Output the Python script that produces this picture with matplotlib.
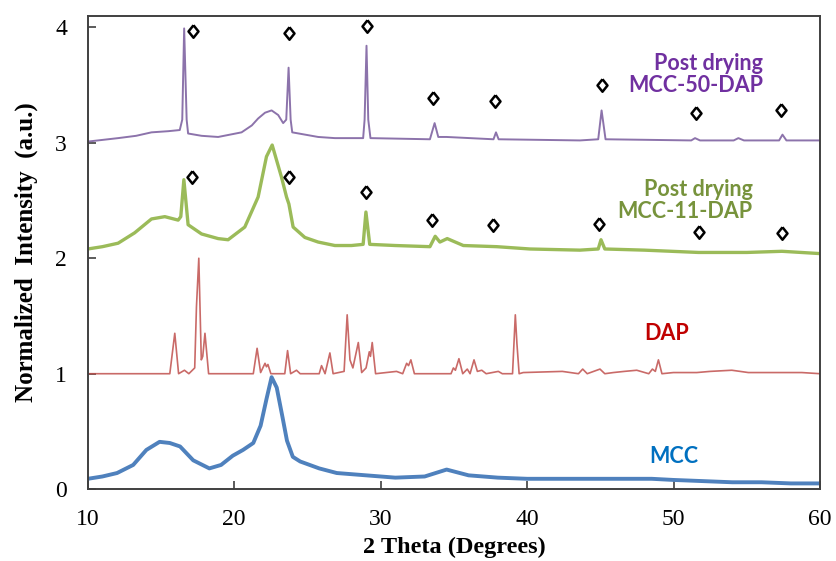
import numpy as np
import matplotlib
matplotlib.use("Agg")
import matplotlib.pyplot as plt

# XRD patterns (2 theta, normalized intensity, stacked)
mcc_x = [10, 11, 12, 13.1, 14.0, 14.9, 15.6, 16.3, 17.2, 18.3,
         19.1, 19.9, 20.6, 21.3, 21.8, 22.2, 22.55, 22.9, 23.3, 23.6,
         24.0, 24.5, 25.8, 27, 29, 31, 33, 34.5, 36, 38,
         40, 43, 45, 47, 48.5, 50, 52, 54, 56, 58, 60]
mcc_y = [0.09, 0.11, 0.14, 0.21, 0.34, 0.41, 0.40, 0.37, 0.25, 0.18,
         0.21, 0.29, 0.34, 0.40, 0.55, 0.78, 0.97, 0.88, 0.62, 0.42,
         0.28, 0.24, 0.18, 0.14, 0.12, 0.10, 0.11, 0.17, 0.12, 0.10,
         0.09, 0.09, 0.09, 0.09, 0.09, 0.08, 0.07, 0.06, 0.06, 0.05, 0.05]

dap_x = [10, 15.6, 15.94, 16.2, 16.6, 16.9, 17.3, 17.42, 17.58, 17.75,
         17.85, 18.0, 18.25, 21.3, 21.56, 21.8, 22.1, 22.2, 22.3, 22.5,
         23.45, 23.64, 23.85, 24.25, 24.5, 25.8, 25.96, 26.2, 26.53, 26.75,
         27.5, 27.71, 27.9, 28.1, 28.47, 28.7, 29.0, 29.22, 29.3, 29.42,
         29.65, 31.08, 31.5, 31.77, 31.9, 32.06, 32.3, 34.8, 34.96, 35.1,
         35.34, 35.6, 35.91, 36.1, 36.37, 36.6, 36.9, 37.2, 38.03, 38.3,
         39.0, 39.19, 39.3, 39.45, 39.73, 42.4, 43.5, 43.79, 44.1, 44.97,
         45.3, 45.88, 46.63, 47.48, 48.3, 48.55, 48.75, 48.96, 49.2, 49.98,
         51.58, 52.49, 53.97, 54.54, 55.1, 58.75, 60]
dap_y = [1.0, 1.0, 1.35, 1.0, 1.03, 1.0, 1.05, 1.58, 2.0, 1.12,
         1.15, 1.35, 1.0, 1.0, 1.22, 1.01, 1.09, 1.06, 1.08, 1.0,
         1.0, 1.2, 1.0, 1.03, 1.0, 1.0, 1.07, 1.0, 1.18, 1.0,
         1.02, 1.51, 1.12, 1.05, 1.27, 1.01, 1.05, 1.19, 1.15, 1.27,
         1.0, 1.02, 1.0, 1.09, 1.07, 1.12, 1.0, 1.0, 1.05, 1.03,
         1.13, 1.0, 1.04, 1.0, 1.12, 1.02, 1.03, 1.0, 1.02, 1.0,
         1.0, 1.51, 1.26, 1.0, 1.01, 1.02, 1.0, 1.04, 1.0, 1.04,
         1.0, 1.01, 1.02, 1.03, 1.0, 1.04, 1.02, 1.12, 1.0, 1.01,
         1.01, 1.02, 1.03, 1.02, 1.01, 1.01, 1.0]

mcc11_x = [10, 11, 12.07, 13.2, 14.35, 15.26, 16.17, 16.35, 16.56, 16.85,
           17.77, 18.9, 19.58, 20.72, 21.63, 22.2, 22.59, 23.23, 23.57, 23.73,
           24.02, 24.82, 25.73, 26.87, 28.0, 28.8, 28.99, 29.25, 31, 33.36,
           33.72, 34.04, 34.54, 35.64, 37.92, 40.19, 43.6, 44.85, 45.04, 45.3,
           48, 51.7, 55, 57.4, 60]
mcc11_y = [2.08, 2.10, 2.13, 2.22, 2.34, 2.36, 2.33, 2.36, 2.68, 2.29,
           2.21, 2.17, 2.16, 2.27, 2.53, 2.88, 2.98, 2.70, 2.53, 2.47,
           2.27, 2.18, 2.14, 2.11, 2.11, 2.12, 2.40, 2.12, 2.11, 2.10,
           2.19, 2.14, 2.17, 2.11, 2.10, 2.08, 2.07, 2.08, 2.16, 2.08,
           2.07, 2.05, 2.05, 2.06, 2.04]

mcc50_x = [10, 12.07, 13.3, 14.35, 15.49, 16.28, 16.45, 16.58, 16.75, 16.85,
           17.77, 18.9, 20.5, 21.2, 21.63, 22.1, 22.55, 23.0, 23.34, 23.55,
           23.71, 23.85, 23.96, 25.73, 26.87, 28.8, 28.9, 29.03, 29.15, 29.3,
           33.36, 33.68, 33.93, 34.5, 37.7, 37.87, 38.05, 43.6, 44.85, 45.08,
           45.35, 51.2, 51.46, 51.8, 54.1, 54.42, 54.8, 57.2, 57.43, 57.7, 60]
mcc50_y = [3.01, 3.04, 3.06, 3.09, 3.10, 3.11, 3.2, 3.99, 3.2, 3.08,
           3.06, 3.05, 3.09, 3.15, 3.21, 3.26, 3.28, 3.24, 3.17, 3.2,
           3.65, 3.2, 3.09, 3.05, 3.04, 3.04, 3.2, 3.84, 3.2, 3.04,
           3.03, 3.17, 3.05, 3.05, 3.03, 3.09, 3.03, 3.02, 3.03, 3.28,
           3.03, 3.02, 3.04, 3.02, 3.02, 3.04, 3.02, 3.02, 3.07, 3.02, 3.02]

# diamond markers (DAP reflections)
mark50_x = [17.19, 23.75, 29.08, 33.59, 37.80, 45.13, 51.53, 57.34]
mark50_y = [3.97, 3.95, 4.01, 3.39, 3.36, 3.50, 3.26, 3.28]
mark11_x = [17.14, 23.71, 28.99, 33.47, 37.64, 44.90, 51.76, 57.38]
mark11_y = [2.70, 2.70, 2.57, 2.33, 2.29, 2.30, 2.23, 2.22]

serif = "Liberation Serif"
label_font = "Lato"

fig = plt.figure(figsize=(8.36, 5.61), dpi=100)
ax = fig.add_axes([0.105, 0.128, 0.876, 0.844])

ax.plot(mcc_x, mcc_y, color="#4F81BD", lw=2.8)
ax.plot(dap_x, dap_y, color="#C0504D", lw=1.2, alpha=0.85)
ax.plot(mcc11_x, mcc11_y, color="#9BBB59", lw=2.4)
ax.plot(mcc50_x, mcc50_y, color="#8064A2", lw=1.4, alpha=0.9)

diamond = [(0, 1), (0.8, 0), (0, -1), (-0.8, 0), (0, 1)]
for mx, my in [(mark50_x, mark50_y), (mark11_x, mark11_y)]:
    ax.plot(mx, my, ls="none", marker=diamond, ms=9, mfc="white",
            mec="black", mew=1.8)

ax.text(56.1, 3.59, "Post drying\nMCC-50-DAP", color="#7030A0", ha="right",
        va="center", fontsize=15.5, fontweight="bold", family=label_font,
        linespacing=1.1)
ax.text(55.4, 2.50, "Post drying\nMCC-11-DAP", color="#77933C", ha="right",
        va="center", fontsize=15.5, fontweight="bold", family=label_font,
        linespacing=1.1)
ax.text(49.5, 1.35, "DAP", color="#C00000", ha="center", va="center",
        fontsize=15.5, fontweight="bold", family=label_font)
ax.text(50.0, 0.28, "MCC", color="#0070C0", ha="center", va="center",
        fontsize=15.5, fontweight="bold", family=label_font)

ax.set_xlim(10, 60)
ax.set_ylim(0, 4.1)
ax.set_xticks([10, 20, 30, 40, 50, 60])
ax.set_yticks([0, 1, 2, 3, 4])
ax.tick_params(direction="in", length=6, width=1.2, color="#404040",
               labelsize=17, pad=14)
ax.tick_params(axis="y", pad=15)
for lab in ax.get_xticklabels() + ax.get_yticklabels():
    lab.set_family(serif)
for sp in ax.spines.values():
    sp.set_color("#404040")
    sp.set_linewidth(1.4)

ax.set_xlabel("2 Theta (Degrees)", family=serif, fontsize=17.5,
              fontweight="bold", labelpad=5)
ax.set_ylabel("Normalized  Intensity  (a.u.)", family=serif, fontsize=18,
              fontweight="bold", labelpad=12)

fig.savefig("out.png", dpi=100)
